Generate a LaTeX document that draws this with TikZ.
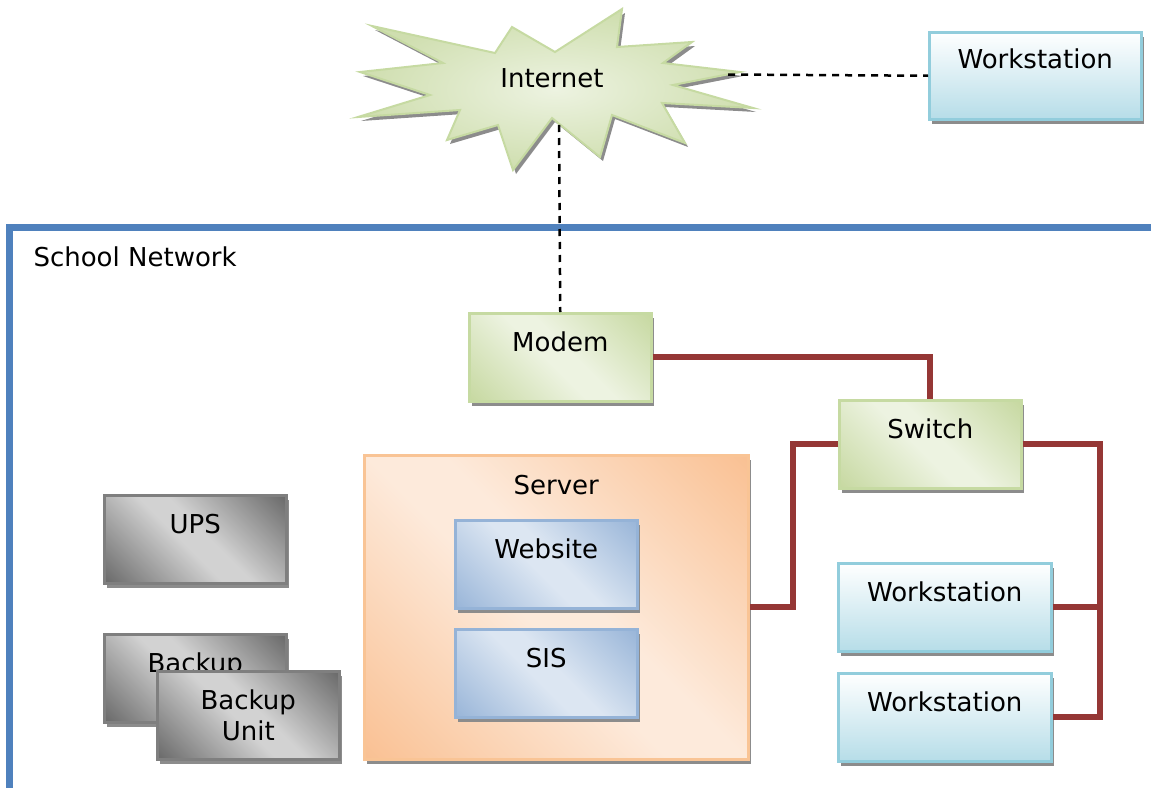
\documentclass[tikz,border=0pt]{standalone}
\usepackage{fontspec}
\setmainfont{DejaVu Sans}
\usetikzlibrary{shadows}
\definecolor{grnlight}{HTML}{EDF3E1}
\definecolor{grndark}{HTML}{C3D69B}
\definecolor{grnedge}{HTML}{C6DAA2}
\definecolor{grylight}{HTML}{D2D2D2}
\definecolor{grydark}{HTML}{606060}
\definecolor{gryedge}{HTML}{7F7F7F}
\definecolor{orglight}{HTML}{FDEADB}
\definecolor{orgdark}{HTML}{F9BD8D}
\definecolor{orgedge}{HTML}{F9C495}
\definecolor{blulight}{HTML}{DCE6F2}
\definecolor{bludark}{HTML}{93B1D6}
\definecolor{bluedge}{HTML}{95B3D7}
\definecolor{wsbottom}{HTML}{B6DDE8}
\definecolor{wsedge}{HTML}{92CDDC}
\definecolor{wirered}{HTML}{953735}
\definecolor{lanblue}{HTML}{4F81BD}
% softer axis shading, same colour keys as tikz's own
\makeatletter
\pgfdeclareverticalshading[tikz@axis@top,tikz@axis@middle,tikz@axis@bottom]{softaxis}{100bp}{%
  color(0bp)=(tikz@axis@bottom); color(12bp)=(tikz@axis@bottom);
  color(46bp)=(tikz@axis@middle); color(54bp)=(tikz@axis@middle);
  color(88bp)=(tikz@axis@top); color(100bp)=(tikz@axis@top)}
\makeatother
\tikzset{
  box/.style={draw, line width=2.5pt, inner sep=0pt, anchor=north west, align=center,
    minimum width=182pt, text height=38pt, text depth=50pt,
    drop shadow={shadow xshift=3pt, shadow yshift=-5pt, fill=black!45, opacity=1}},
  diag/.style={left color=#1dark, right color=#1dark, middle color=#1light,
    shading=softaxis, shading angle=135},
  grnbox/.style={box, diag=grn, draw=grnedge},
  grybox/.style={box, diag=gry, draw=gryedge},
  blubox/.style={box, diag=blu, draw=bluedge},
  srvbox/.style={box, diag=org, draw=orgedge, minimum width=384pt, text height=39pt, text depth=265pt},
  wsbox/.style={box, top color=white, bottom color=wsbottom, draw=wsedge, minimum width=213pt},
  wire/.style={wirered, line width=6pt},
  lan/.style={lanblue, line width=7pt},
  net/.style={line width=2.5pt, dash pattern=on 7pt off 6pt}
}
\newcommand\burstpath{(372,26) -- (495,53) -- (512,27) -- (555,52) -- (622,9) -- (617,47)
  -- (692,42) -- (663,63) -- (740,72) -- (673,85) -- (753,108) -- (662,103) -- (685,143)
  -- (612,115) -- (600,157) -- (552,118) -- (513,170) -- (498,125) -- (447,140) -- (460,110)
  -- (358,117) -- (430,95) -- (360,72) -- (443,63) -- cycle}
\begin{document}
\begin{tikzpicture}[x=1pt,y=-1pt,font=\fontsize{26}{31}\selectfont]
\useasboundingbox (0,0) rectangle (1151,787);
% school network frame
\draw[lan] (9,792) -- (9,227) -- (1156,227);
\node[anchor=west] (school) at (30,257) {School Network};
% internet
\fill[black!45, shift={(3,4)}] \burstpath;
\draw[grnedge, line width=2pt, inner color=grnlight, outer color=grndark!80] \burstpath;
\node (inet) at (552,78) {Internet};
\coordinate (inetE) at (728,74.5);
\coordinate (inetS) at (559,125);
% boxes
\node[wsbox, minimum width=212pt, text height=36pt, text depth=51pt] (wsTop) at (928,31) {Workstation};
\node[grnbox] (modem) at (468,312) {Modem};
\node[grnbox] (switch) at (838,399) {Switch};
\node[srvbox] (server) at (363,454) {Server};
\node[blubox] (website) at (454,519) {Website};
\node[blubox] (sis) at (454,628) {SIS};
\node[grybox] (ups) at (103,494) {UPS};
\node[grybox] (backA) at (103,633) {Backup};
\node[grybox, text height=69pt, text depth=19pt] (backB) at (156,670) {Backup\\Unit};
\node[wsbox] (wsA) at (837,562) {Workstation};
\node[wsbox] (wsB) at (837,672) {Workstation};
% links
\draw[net] (inetE) -- (wsTop.west);
\draw[net] (inetS) -- (modem.north);
\draw[wire] (modem.east) -| (switch.north);
\draw[wire] (switch.west) -- ++(-45,0) |- (server.east);
\draw[wire] (switch.east) -- ++(77,0) coordinate (bus) |- (wsB.east);
\draw[wire] (wsA.east) -- (bus |- wsA.east);
\end{tikzpicture}
\end{document}
